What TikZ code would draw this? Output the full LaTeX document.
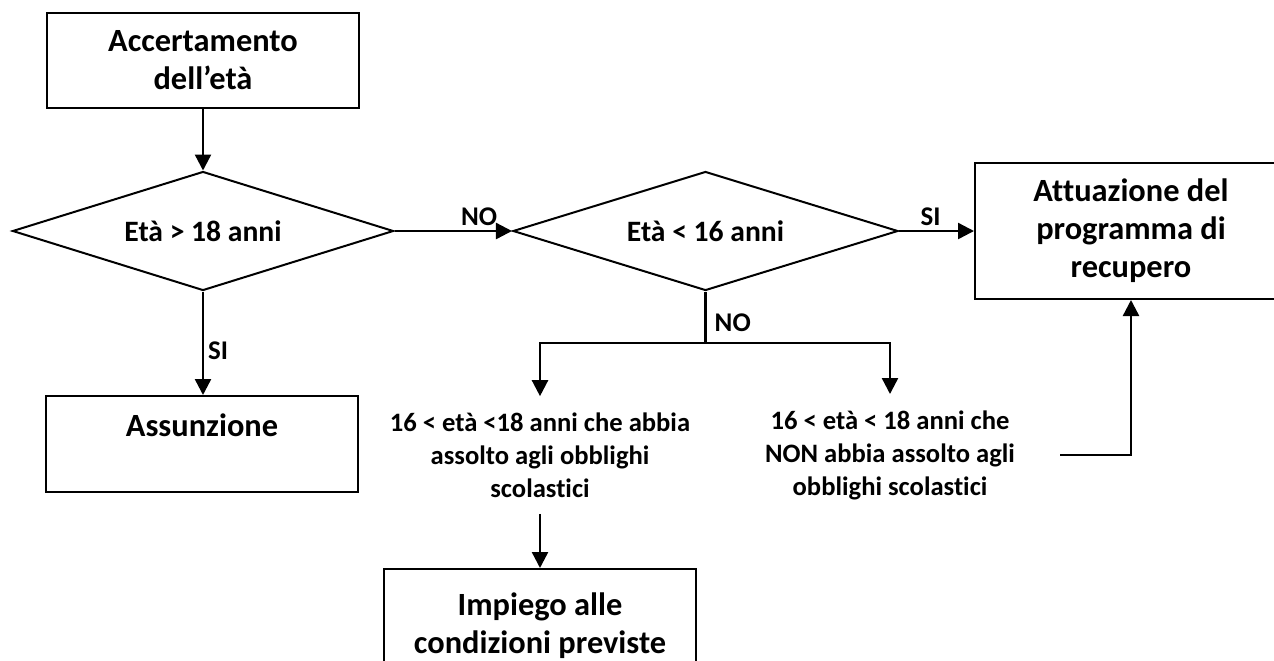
\documentclass[tikz,border=0pt]{standalone}
\usepackage{fontspec}
\setmainfont{Carlito}[Ligatures={TeX,NoCommon}]
\usetikzlibrary{shapes.geometric,arrows.meta}

\begin{document}
\begin{tikzpicture}[x=0.5pt, y=-0.5pt,
 box/.style={draw, line width=1pt, minimum width=156pt, align=center, inner sep=0pt, font=\fontsize{16.2}{19}\selectfont\bfseries},
 test/.style={draw, diamond, line width=1pt, aspect=3.2, inner sep=0pt, font=\fontsize{14.8}{17}\selectfont\bfseries},
 case/.style={align=center, inner xsep=2pt, inner ysep=8pt, font=\fontsize{13.3}{16.5}\selectfont\bfseries},
 answer/.style={inner sep=2pt, font=\fontsize{13.5}{16}\selectfont\bfseries},
 arrow/.style={-{Triangle[length=8pt,width=8pt]}, line width=1.2pt}]

 \useasboundingbox (0,0) rectangle (1274,660);

 \node[box, minimum height=47.5pt] (age) at (203,60.5) {Accertamento\\dell’età};
 \node[test, minimum width=190.5pt, minimum height=59.5pt] (over18) at (203,231) {Età > 18 anni};
 \node[test, minimum width=192.5pt, minimum height=59.5pt] (under16) at (705.5,231) {Età < 16 anni};
 \node[box, minimum height=68pt] (recovery) at (1131,231) {Attuazione del\\programma di\\recupero};
 \node[box, minimum height=48pt] (hiring) at (202,444) {Assunzione\\\mbox{}};
 \node[case] (keeps) at (540,455) {16 < età <18 anni che abbia\\assolto agli obblighi\\scolastici};
 \node[case] (drops) at (890,455) {16 < età < 18 anni che\\NON abbia assolto agli\\obblighi scolastici};
 \node[box, minimum height=57pt] (job) at (540,626) {Impiego alle\\condizioni previste};

 \coordinate (split) at (705.5,343);
 \coordinate (back) at (1060,455);

 \draw[arrow] (age) -- (over18);
 \draw[arrow] (over18) -- node[answer, above, pos=0.72] {NO} (under16);
 \draw[arrow] (over18.south) -- node[answer, right, pos=0.57] {SI} (over18.south |- hiring.north);
 \draw[arrow] (under16) -- node[answer, above, pos=0.42] {SI} (recovery);
 \draw[line width=1.2pt] (under16) -- node[answer, right, pos=0.6, xshift=2pt] {NO} (split);
 \draw[arrow] (split) -| (keeps);
 \draw[arrow] (split) -| (drops);
 \draw[arrow] (keeps) -- (job);
 \draw[arrow] (back) -| (recovery);
\end{tikzpicture}
\end{document}
